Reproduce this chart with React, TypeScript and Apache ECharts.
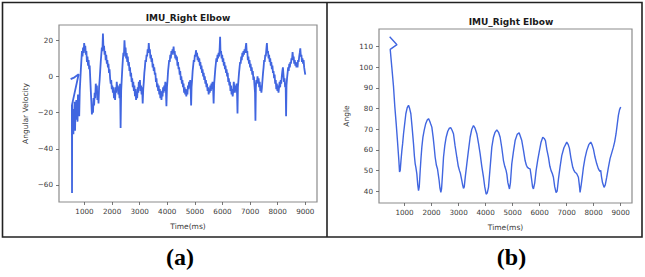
import React, { useEffect, useRef } from "react";
import * as echarts from "echarts";

const titleText = "IMU_Right Elbow";
const xName = "Time(ms)";
const yNameA = "Angular Velocity";
const yNameB = "Angle";
const panelLabels = ["(a)", "(b)"];

const xTicks = [1000, 2000, 3000, 4000, 5000, 6000, 7000, 8000, 9000];
const yTicksA = [-60, -40, -20, 0, 20];
const yTicksB = [40, 50, 60, 70, 80, 90, 100, 110];

// Panel (a): angular velocity [time(ms), value]
const velocity: number[][] = [
  [500,-1.5],[640,-0.5],[790,1.2],
  [545,-16],[550,-64.5],[556,-15],[570,-28],[585,-18],[600,-32],[615,-20],[630,-27],[645,-14],[660,-30],[675,-17],[690,-24],[705,-13],[720,-22],[735,-15],[750,-25],[765,-10],[780,-18],[795,-12],[810,-22],[830,-8],[850,-2],[870,4],[890,9],[910,14],[930,11],[950,16],[970,13],[990,18.5],
  [1010,15],[1030,17],[1050,12],[1070,14],[1090,8],[1110,11],[1130,6],[1150,9],[1170,4],[1190,6],[1210,-1],[1230,-8],[1250,-14],[1270,-21],[1290,-17],[1310,-20],[1330,-12],[1350,-16],[1370,-9],[1390,-12],[1410,-4],[1430,-8],[1450,-5],[1470,-13],[1490,-9],[1510,-15],[1530,-6],[1550,-2],[1570,3],[1590,8],[1610,12],[1630,16],[1650,14],[1670,23.8],[1690,15],[1710,17],[1730,12],[1750,14],[1770,9],[1790,12],[1810,7],[1830,9],[1850,5],[1870,7],[1890,2],[1910,4],[1930,-1],[1950,-4],[1970,-2],[1990,-7],
  [2010,-5],[2030,-9],[2050,-6],[2070,-12],[2090,-8],[2110,-13],[2130,-6],[2150,-9],[2170,-3],[2190,-7],[2210,-5],[2230,-10],[2250,-6],[2270,-12],[2290,-4],[2310,-28.5],[2330,-8],[2350,-2],[2370,4],[2390,9],[2410,13],[2430,11],[2450,20],[2470,14],[2490,16],[2510,10],[2530,13],[2550,8],[2570,11],[2590,6],[2610,8],[2630,3],[2650,5],[2670,0],[2690,2],[2710,-3],[2730,-1],[2750,-6],[2770,-3],[2790,-8],[2810,-5],[2830,-11],[2850,-7],[2870,-13],[2890,-9],[2910,-12],[2930,-6],[2950,-9],[2970,-3],[2990,-6],
  [3010,-2],[3030,-8],[3050,-5],[3070,-10],[3090,-6],[3110,-15],[3130,-7],[3150,-3],[3170,2],[3190,5],[3210,9],[3230,8],[3250,12],[3270,11],[3290,15],[3310,13],[3330,18.5],[3350,14],[3370,15],[3390,10],[3410,12],[3430,8],[3450,10],[3470,5],[3490,7],[3510,3],[3530,5],[3550,1],[3570,2],[3590,-3],[3610,-1],[3630,-6],[3650,-4],[3670,-8],[3690,-5],[3710,-10],[3730,-7],[3750,-12],[3770,-8],[3790,-13],[3810,-9],[3830,-11],[3850,-6],[3870,-9],[3890,-5],[3910,-8],[3930,-3],[3950,-7],[3970,-16.5],[3990,-6],
  [4010,-2],[4030,3],[4050,6],[4070,9],[4090,8],[4110,12],[4130,10],[4150,14],[4170,12],[4190,15],[4210,13],[4230,16.5],[4250,12],[4270,14],[4290,10],[4310,12],[4330,9],[4350,11],[4370,6],[4390,8],[4410,4],[4430,5],[4450,1],[4470,3],[4490,-2],[4510,0],[4530,-4],[4550,-2],[4570,-6],[4590,-4],[4610,-9],[4630,-6],[4650,-10],[4670,-7],[4690,-11],[4710,-8],[4730,-10],[4750,-5],[4770,-7],[4790,-3],[4810,-6],[4830,-2],[4850,-8],[4865,-16],[4880,-6],[4900,-2],[4920,3],[4940,6],[4960,9],[4980,8],
  [5000,12],[5020,11],[5040,14.5],[5060,12],[5080,13],[5100,9],[5120,11],[5140,8],[5160,10],[5180,6],[5200,8],[5220,4],[5240,6],[5260,2],[5280,4],[5300,0],[5320,2],[5340,-2],[5360,0],[5380,-4],[5400,-2],[5420,-6],[5440,-4],[5460,-8],[5480,-6],[5500,-10],[5520,-7],[5540,-9],[5560,-5],[5580,-8],[5600,-4],[5620,-7],[5640,-3],[5660,-6],[5680,-15],[5700,-4],[5720,0],[5740,4],[5760,7],[5780,10],[5800,8],[5820,12],[5840,10],[5860,13],[5880,11],[5900,16],[5915,22],[5930,13],[5950,14],[5970,10],[5990,12],
  [6010,8],[6030,10],[6050,6],[6070,8],[6090,4],[6110,6],[6130,2],[6150,4],[6170,0],[6190,2],[6210,-3],[6230,-1],[6250,-5],[6270,-3],[6290,-8],[6310,-5],[6330,-10],[6350,-7],[6370,-11],[6390,-8],[6410,-3],[6430,-6],[6450,-9],[6470,-5],[6490,-8],[6510,-4],[6530,-10],[6545,-20.5],[6560,-6],[6580,-2],[6600,2],[6620,5],[6640,8],[6660,7],[6680,11],[6700,9],[6720,13],[6740,11],[6760,14],[6780,12],[6800,15],[6820,13],[6840,16],[6860,18.5],[6880,13],[6900,14],[6920,9],[6940,11],[6960,7],[6980,9],
  [7000,5],[7020,7],[7040,3],[7060,5],[7080,1],[7100,3],[7120,-2],[7140,0],[7160,-5],[7180,-9],[7195,-24.5],[7210,-6],[7230,-2],[7250,-4],[7270,0],[7290,-3],[7310,-1],[7330,-6],[7350,-3],[7370,-8],[7390,-5],[7410,-9],[7430,-6],[7450,-2],[7470,2],[7490,5],[7510,9],[7530,8],[7550,12],[7570,11],[7590,15],[7610,18.5],[7630,13],[7650,14],[7670,10],[7690,12],[7710,8],[7730,10],[7750,6],[7770,8],[7790,4],[7810,6],[7830,2],[7850,3],[7870,-1],[7890,1],[7910,-4],[7930,-2],[7950,-7],[7970,-4],[7990,-8],
  [8010,-5],[8030,-9],[8050,-6],[8070,-3],[8090,-6],[8110,-2],[8130,-4],[8150,0],[8170,3],[8190,5],[8210,1],[8230,-3],[8250,-1],[8270,-6],[8290,-4],[8305,-22],[8320,-5],[8340,-1],[8360,2],[8380,5],[8400,3],[8420,7],[8440,5],[8460,8],[8480,7],[8500,10],[8520,9],[8540,13.5],[8560,10],[8580,11],[8600,7],[8620,9],[8640,6],[8660,8],[8680,5],[8700,7],[8720,5],[8740,9],[8760,8],[8780,11],[8800,13],[8820,15.5],[8840,11],[8860,12],[8880,8],[8900,10],[8920,7],[8940,9],[8960,5],[8980,3],[9000,1],
];

// Panel (b): angle [time(ms), value]
const angle: number[][] = [
  [450,114.8],[720,111],[470,108.7],[530,100],[593,90.5],[640,81],[692,72.6],[740,64],[790,54.8],[815,49.2],[840,50],[870,55],[901,59.6],[930,63],[963,67.8],
  [1000,72],[1049,77.5],[1100,80.5],[1148,81.6],[1190,80],[1234,77.5],[1280,71],[1333,62.9],[1365,57],[1395,53.2],[1420,51.5],[1456,48.3],[1490,43],[1518,40.2],[1545,42],[1580,50],[1610,56],[1641,61.3],[1680,66],[1727,69.4],[1780,72.5],[1840,74.5],[1888,75.1],[1930,74],[1970,72.5],
  [2011,71],[2060,66],[2100,61],[2134,56.4],[2180,52.5],[2221,50.7],[2250,48],[2282,45],[2310,41.5],[2344,39.3],[2370,41],[2400,47],[2443,56.4],[2490,62],[2541,66.1],[2600,69],[2660,70.5],[2714,70.7],[2760,69.5],[2812,67.8],[2870,62],[2936,56.4],[2990,52],
  [3034,49.9],[3070,48.5],[3121,45],[3150,43],[3182,41.3],[3210,42],[3250,47],[3306,53.2],[3360,59],[3429,66.1],[3490,70],[3552,71.8],[3610,70.5],[3676,67.8],[3740,63],[3799,58],[3860,52],[3923,46.7],[3970,42],
  [4021,38.5],[4060,39],[4108,41.8],[4160,50],[4231,61.3],[4292,66.1],[4350,68.5],[4416,69.7],[4480,68.5],[4539,66.1],[4600,61],[4662,54.8],[4710,52],[4761,49.9],[4790,48],[4823,44.2],[4884,41],[4920,44],[4970,53.2],
  [5030,59],[5094,64.5],[5170,67.5],[5242,68.3],[5290,66.5],[5340,64.5],[5400,60],[5463,54.8],[5510,52.5],[5550,51.5],[5600,51],[5649,50.7],[5680,48],[5710,45],[5740,42],[5772,41],[5820,44],[5870,49.9],[5930,55],[5994,59.6],
  [6050,63.5],[6117,66.1],[6170,65.5],[6216,64.5],[6270,60],[6327,56.4],[6380,52],[6425,49.9],[6470,48.5],[6511,46.7],[6560,42],[6610,39.3],[6650,40],[6700,46],[6760,52],[6820,57.2],[6900,61],
  [7005,63.7],[7060,62.5],[7104,60.7],[7160,56],[7227,51.5],[7270,50],[7313,49.1],[7370,48.5],[7436,46.7],[7470,43],[7498,39.3],[7540,43],[7580,47],[7622,51.5],[7680,56],[7745,59.6],[7820,62.5],[7893,63.7],[7940,62.5],[7991,60.4],
  [8050,56.5],[8115,53.2],[8170,51],[8213,49.9],[8240,49.5],[8262,50],[8290,47],[8330,44],[8386,41.8],[8430,43],[8485,46.7],[8540,51],[8608,55.7],[8670,58.5],[8731,61.3],[8780,64],[8830,67.8],[8870,72],[8916,76.7],[8960,79.5],[9002,80.8],
];

const LINE = "#4166e0";
const TXT = "#3a3a3a";
const SANS = "'DejaVu Sans', sans-serif";

export default function App() {
  const ref = useRef<HTMLDivElement>(null);
  useEffect(() => {
    if (!ref.current) return;
    const chart = echarts.init(ref.current, undefined, { renderer: "svg" });
    const xAxisBase = (gridIndex: number, min: number, max: number) => ({
      type: "value",
      gridIndex,
      min,
      max,
      name: xName,
      nameLocation: "middle",
      nameGap: 20,
      nameTextStyle: { fontSize: 7.5, color: TXT, fontFamily: SANS },
      splitLine: { show: false },
      axisLine: { show: false, onZero: false },
      axisTick: { show: true, inside: false, length: 3, customValues: xTicks, lineStyle: { color: "#555", width: 0.8 } },
      axisLabel: { show: true, customValues: xTicks, fontSize: 7.2, color: TXT, fontFamily: SANS, margin: 6, formatter: (v: number) => String(v) },
    });
    const yAxisBase = (gridIndex: number, min: number, max: number, ticks: number[], name: string, gap: number) => ({
      type: "value",
      gridIndex,
      min,
      max,
      name,
      nameLocation: "middle",
      nameGap: gap,
      nameTextStyle: { fontSize: 7.5, color: TXT, fontFamily: SANS },
      splitLine: { show: false },
      axisLine: { show: false, onZero: false },
      axisTick: { show: true, inside: false, length: 3, customValues: ticks, lineStyle: { color: "#555", width: 0.8 } },
      axisLabel: {
        show: true,
        customValues: ticks,
        fontSize: 7.2,
        color: TXT,
        fontFamily: SANS,
        margin: 6,
        formatter: (v: number) => (v < 0 ? "\u2212" + Math.abs(v) : String(v)),
      },
    });
    chart.setOption({
      animation: false,
      backgroundColor: "#ffffff",
      grid: [
        { left: 59, top: 25, width: 258, height: 177, show: true, borderColor: "#8c8c8c", borderWidth: 1.2, backgroundColor: "transparent" },
        { left: 379, top: 29, width: 253, height: 174, show: true, borderColor: "#8c8c8c", borderWidth: 1.2, backgroundColor: "transparent" },
      ],
      xAxis: [xAxisBase(0, 78, 9425), xAxisBase(1, 55, 9420)],
      yAxis: [
        yAxisBase(0, -69.45, 28.45, yTicksA, yNameA, 30),
        yAxisBase(1, 34.2, 118.6, yTicksB, yNameB, 29),
      ],
      series: [
        {
          type: "line",
          xAxisIndex: 0,
          yAxisIndex: 0,
          data: velocity,
          showSymbol: false,
          lineStyle: { color: LINE, width: 1.8 },
          z: 3,
        },
        {
          type: "line",
          xAxisIndex: 1,
          yAxisIndex: 1,
          data: angle,
          showSymbol: false,
          lineStyle: { color: LINE, width: 1.4 },
          z: 3,
        },
      ],
      graphic: [
        { type: "rect", shape: { x: 2.5, y: 2.5, width: 639.5, height: 234.5 }, style: { fill: "none", stroke: "#222", lineWidth: 1.6 }, silent: true },
        { type: "line", shape: { x1: 327, y1: 2.5, x2: 327, y2: 237 }, style: { stroke: "#222", lineWidth: 1.6 }, silent: true },
        { type: "text", x: 188, y: 18, style: { text: titleText, align: "center", verticalAlign: "middle", fontSize: 9, fontWeight: "bold", fill: "#1a1a1a", fontFamily: SANS } },
        { type: "text", x: 511, y: 22, style: { text: titleText, align: "center", verticalAlign: "middle", fontSize: 9, fontWeight: "bold", fill: "#1a1a1a", fontFamily: SANS } },
        { type: "text", x: 180, y: 257, style: { text: panelLabels[0], align: "center", verticalAlign: "middle", fontSize: 24, fontWeight: "bold", fill: "#000", fontFamily: "'Liberation Serif', serif" } },
        { type: "text", x: 511.5, y: 257, style: { text: panelLabels[1], align: "center", verticalAlign: "middle", fontSize: 24, fontWeight: "bold", fill: "#000", fontFamily: "'Liberation Serif', serif" } },
      ],
    });
    return () => chart.dispose();
  }, []);
  return (
    <div style={{ position: "fixed", left: 0, top: 0, width: 645, height: 277, background: "#fff" }}>
      <div ref={ref} style={{ width: 645, height: 277 }} />
    </div>
  );
}
